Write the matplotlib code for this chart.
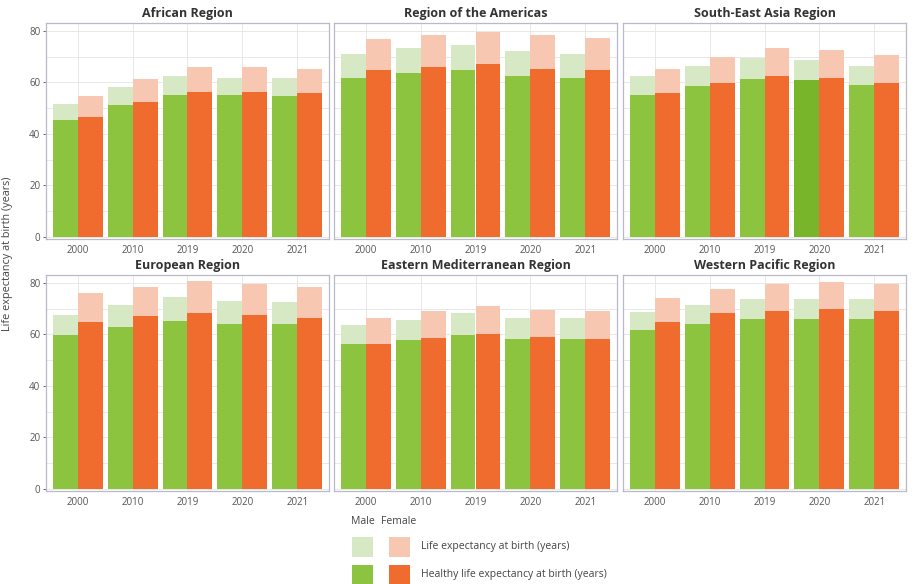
import numpy as np
import matplotlib
matplotlib.use('Agg')
import matplotlib.pyplot as plt
from matplotlib.patches import Rectangle

plt.rcParams['font.family'] = ['Open Sans', 'DejaVu Sans']

years = ['2000', '2010', '2019', '2020', '2021']
regions = ['African Region', 'Region of the Americas', 'South-East Asia Region',
           'European Region', 'Eastern Mediterranean Region', 'Western Pacific Region']

# life expectancy at birth (years)
le_male = [
    [51.6, 58.0, 62.3, 61.6, 61.6],
    [70.9, 73.2, 74.4, 72.0, 70.9],
    [62.3, 66.4, 69.3, 68.6, 66.3],
    [67.3, 71.4, 74.3, 73.0, 72.5],
    [63.5, 65.7, 68.1, 66.3, 66.3],
    [68.7, 71.4, 73.7, 73.7, 73.7],
]
le_female = [
    [54.5, 61.3, 65.8, 65.8, 65.3],
    [76.6, 78.4, 79.7, 78.4, 77.3],
    [65.3, 69.8, 73.4, 72.7, 70.4],
    [75.9, 78.2, 80.5, 79.4, 78.2],
    [66.3, 69.0, 70.9, 69.5, 69.0],
    [74.2, 77.7, 79.7, 80.4, 79.7],
]
# healthy life expectancy at birth (years)
hle_male = [
    [45.3, 51.0, 55.0, 55.0, 54.5],
    [61.8, 63.6, 64.8, 62.5, 61.8],
    [54.9, 58.5, 61.4, 60.8, 59.0],
    [59.6, 63.0, 65.1, 64.1, 64.1],
    [56.1, 57.8, 59.6, 58.3, 58.3],
    [61.7, 64.1, 65.8, 65.8, 65.8],
]
hle_female = [
    [46.6, 52.2, 56.2, 56.2, 55.7],
    [64.8, 65.9, 67.0, 65.3, 64.8],
    [55.7, 59.8, 62.5, 61.8, 59.7],
    [64.6, 66.9, 68.1, 67.4, 66.3],
    [56.1, 58.4, 60.1, 58.9, 58.3],
    [64.6, 68.1, 69.2, 69.7, 69.2],
]

GREEN = '#8cc43f'
GREEN_DARK = '#78b52a'   # one bar in the reference is drawn darker
ORANGE = '#ef6b2e'
LGREEN = '#d7e8c5'
LORANGE = '#f8c7b1'
FRAME = '#b9bac8'
GRID = '#e8e8e8'
TXT = '#333333'

W, H = 914, 584
fig = plt.figure(figsize=(W / 100, H / 100), dpi=100)

col_left = [46, 334, 623]
row_top = [23, 275]
pw, ph = 283, 216
bw = 0.455
x = np.arange(len(years))

for i, name in enumerate(regions):
    r, c = divmod(i, 3)
    ax = fig.add_axes([col_left[c] / W, 1 - (row_top[r] + ph) / H, pw / W, ph / H])
    ax.set_axisbelow(True)
    ax.bar(x - bw / 2, le_male[i], bw, color=LGREEN, lw=0)
    ax.bar(x + bw / 2, le_female[i], bw, color=LORANGE, lw=0)
    gcols = [GREEN] * len(years)
    if i == 2:
        gcols[3] = GREEN_DARK
    ax.bar(x - bw / 2, hle_male[i], bw, color=gcols, lw=0)
    ax.bar(x + bw / 2, hle_female[i], bw, color=ORANGE, lw=0)

    ax.set_xlim(-0.58, 4.58)
    ax.set_ylim(-0.8, 83)
    ax.set_xticks(x)
    ax.set_xticklabels(years)
    ax.set_yticks([0, 20, 40, 60, 80])
    ax.set_yticks([10, 30, 50, 70], minor=True)
    ax.grid(True, which='major', color=GRID, lw=0.7)
    ax.grid(True, which='minor', axis='y', color=GRID, lw=0.7)
    ax.tick_params(axis='both', which='major', labelsize=7, colors='#555555',
                   length=2, width=0.6, pad=2)
    ax.tick_params(axis='x', length=0, pad=4)
    ax.tick_params(axis='y', which='minor', length=0)
    if c != 0:
        ax.tick_params(axis='y', left=False, labelleft=False)
    for s in ax.spines.values():
        s.set_color(FRAME)
        s.set_linewidth(0.9)
    ax.set_title(name, fontsize=9, fontweight='bold', color=TXT, pad=4)

fig.text(8 / W, 1 - 254 / H, 'Life expectancy at birth (years)', rotation=90,
         ha='center', va='center', fontsize=7.8, color='#444444')

# legend
fig.text(351 / W, 1 - 522 / H, 'Male', fontsize=7.5, color='#444444', va='center')
fig.text(381 / W, 1 - 522 / H, 'Female', fontsize=7.5, color='#444444', va='center')
rows = [(537, LGREEN, LORANGE, 'Life expectancy at birth (years)'),
        (565, GREEN, ORANGE, 'Healthy life expectancy at birth (years)')]
for top, cm, cf, label in rows:
    for left, col in ((352, cm), (389, cf)):
        fig.patches.append(Rectangle((left / W, 1 - (top + 20) / H), 21 / W, 20 / H,
                                     transform=fig.transFigure, color=col, lw=0))
    fig.text(421 / W, 1 - (top + 10) / H, label, fontsize=7.5, color='#444444', va='center')

fig.savefig('out.png', dpi=100)
